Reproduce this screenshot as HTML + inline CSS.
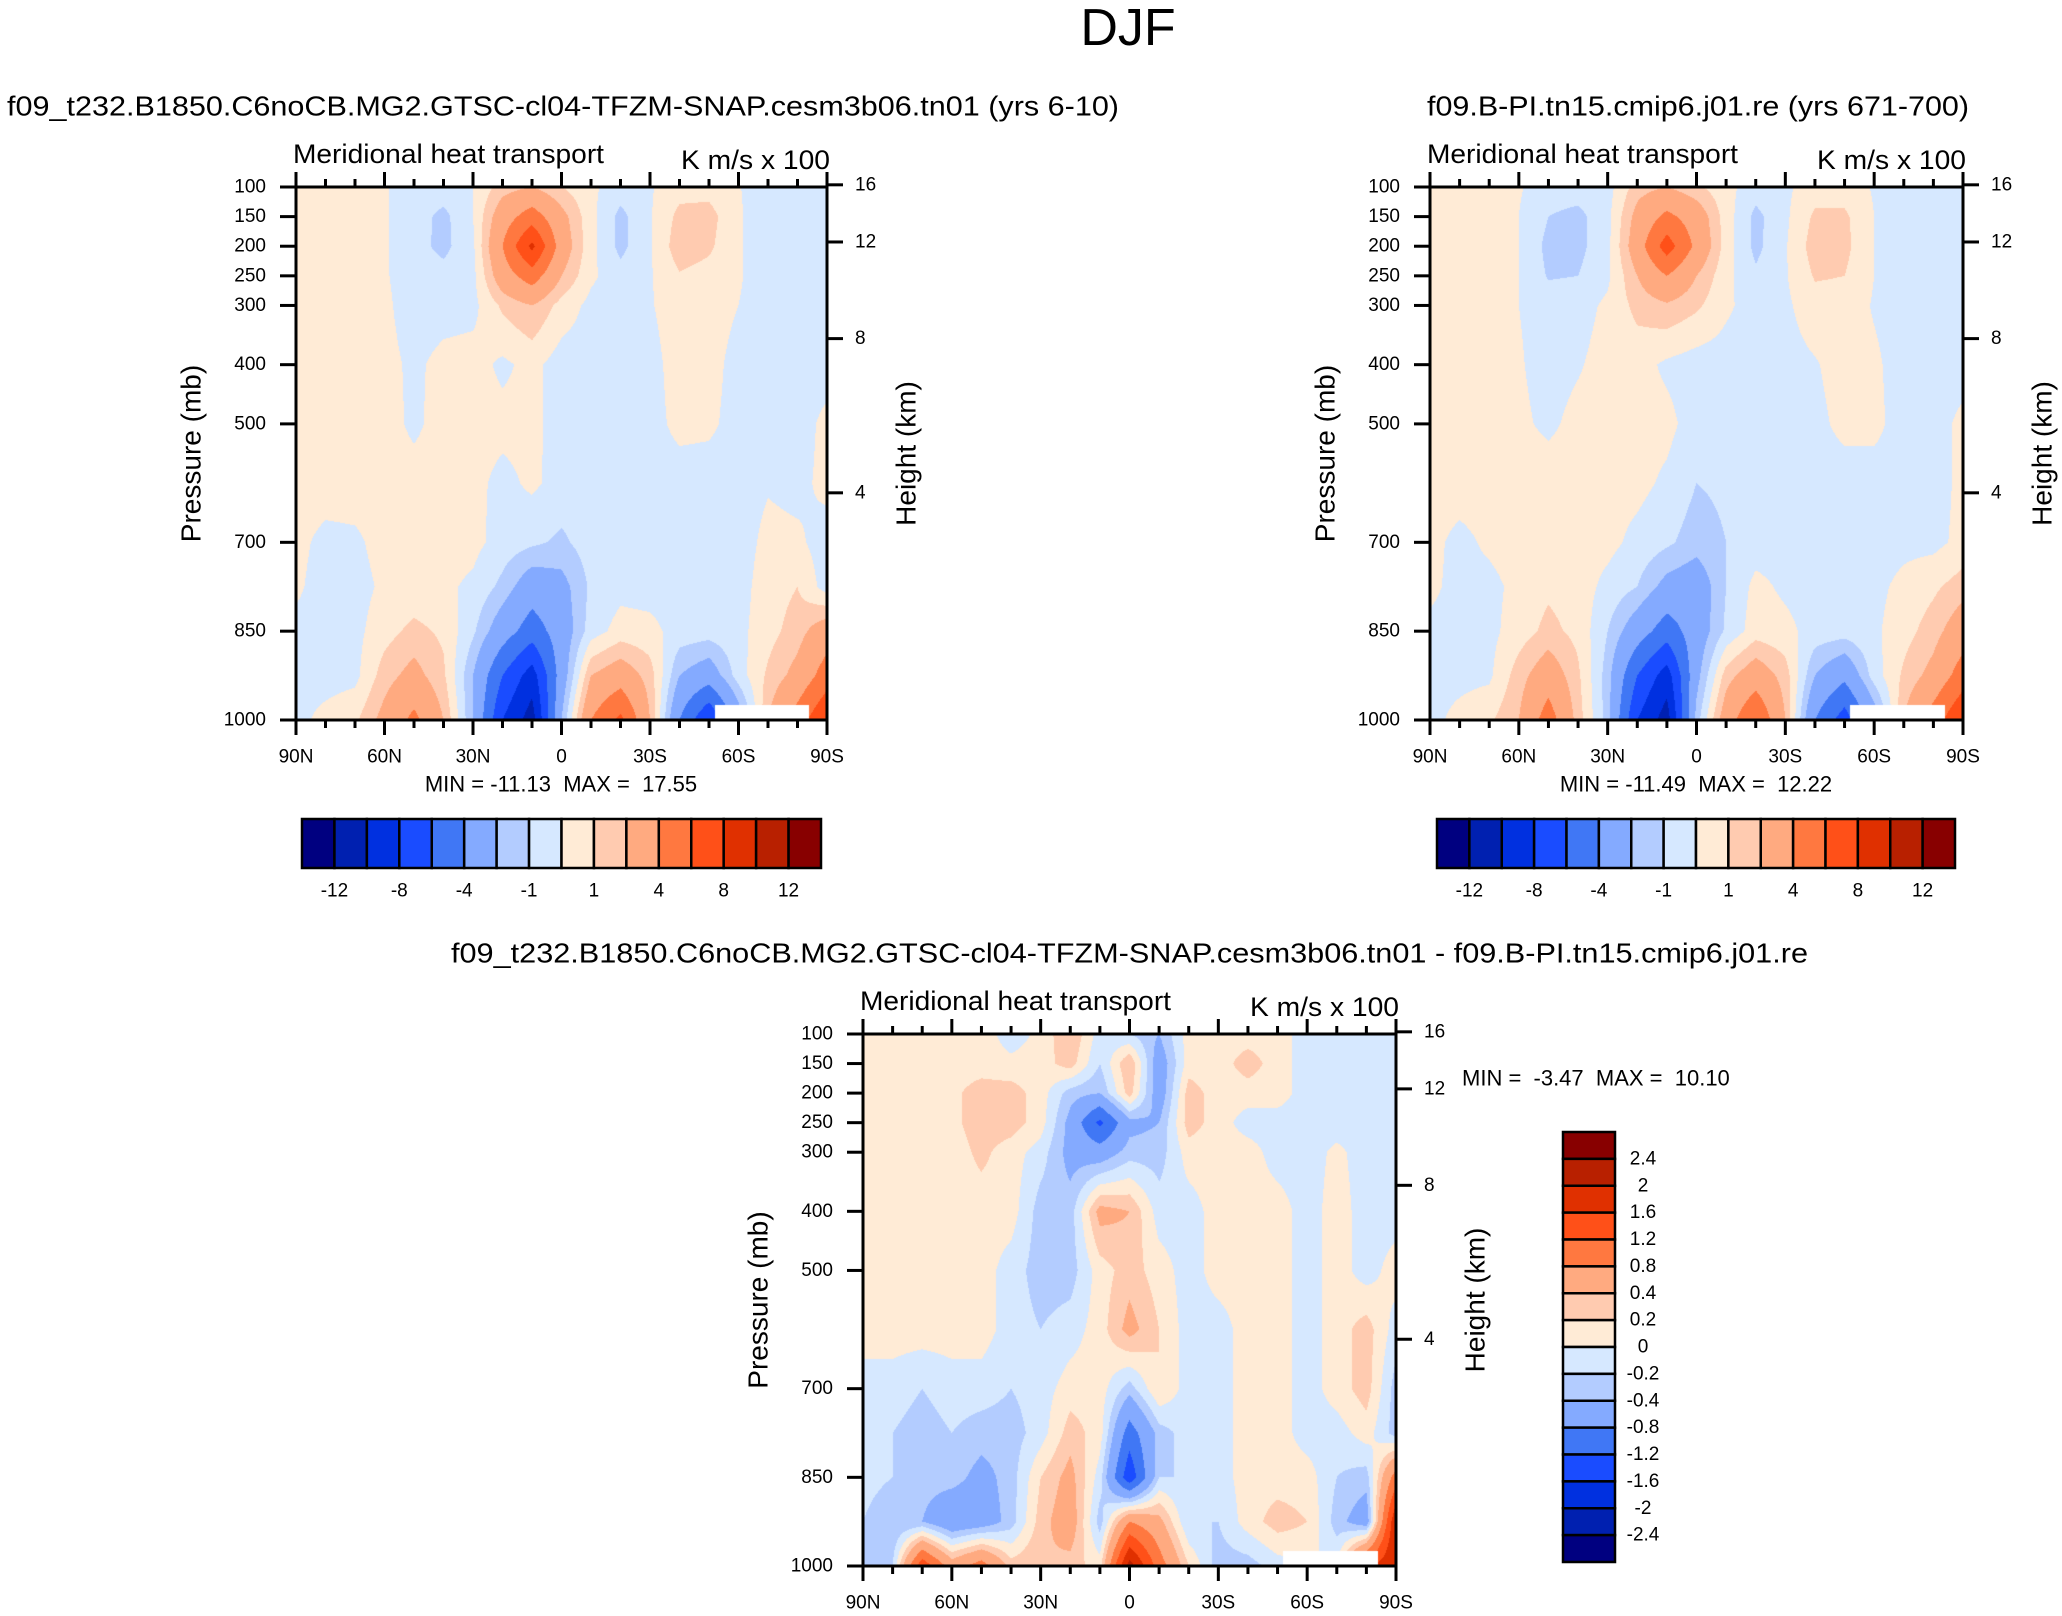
<!DOCTYPE html>
<html><head><meta charset="utf-8">
<style>
html,body{margin:0;padding:0;background:#fff;}
#root{position:relative;width:2062px;height:1616px;overflow:hidden;background:#fff;}
canvas{position:absolute;}
svg{position:absolute;left:0;top:0;}
text{white-space:pre;}
</style></head>
<body>
<div id="root">
<canvas id="c1"></canvas>
<canvas id="c2"></canvas>
<canvas id="c3"></canvas>
<svg id="ov" width="2062" height="1616"></svg>
</div>
<script>
const lats=[90,80,70,60,50,40,30,20,10,0,-10,-20,-30,-40,-50,-60,-70,-80,-90];
const plevs=[100,150,200,250,300,400,500,600,700,775,850,925,1000];
const edges1=[-12,-10,-8,-6,-4,-2,-1,0,1,2,4,6,8,10,12];
const edges3=[-2.4,-2,-1.6,-1.2,-0.8,-0.4,-0.2,0,0.2,0.4,0.8,1.2,1.6,2,2.4];
const colors=["#000080","#0020b0","#0030e0","#1a4cff","#4077f5","#84aaff","#b3ccff","#d6e8ff","#ffebd6","#ffcbb0","#ffaa80","#ff7840","#ff5018","#e03000","#b82000","#880000"];
const pTicks=[100,150,200,250,300,400,500,700,850,1000];
const zTicks=[16,12,8,4];
const latMajor=[90,60,30,0,-30,-60,-90];
const latMajorLabels=["90N","60N","30N","0","30S","60S","90S"];
const cb1Labels=["-12","-8","-4","-1","1","4","8","12"];
const cb3Labels=["2.4","2","1.6","1.2","0.8","0.4","0.2","0","-0.2","-0.4","-0.8","-1.2","-1.6","-2","-2.4"];

const field1=[
[0.5,0.5,0.5,0.1,-0.5,-0.4,0,1.5,2,1,0.2,-0.5,-0.1,0.6,0.6,0.05,-0.5,-0.5,-0.5],
[0.5,0.5,0.5,0.1,-0.5,-1.3,0,3,5,2.5,0.3,-1.3,-0.1,1.3,1.4,0.1,-0.5,-0.5,-0.5],
[0.5,0.5,0.5,0.1,-0.6,-1.3,-0.2,4,8.5,3,0.3,-1.3,-0.1,1.6,1.2,0.1,-0.5,-0.5,-0.5],
[0.5,0.5,0.5,0.1,-0.5,-0.6,-0.3,3,5,2,0.2,-0.6,-0.1,0.9,0.6,0.1,-0.5,-0.5,-0.5],
[0.5,0.5,0.5,0.2,-0.5,-0.4,-0.3,1.2,2,0.6,-0.3,-0.5,-0.1,0.6,0.5,0.0,-0.5,-0.5,-0.5],
[0.5,0.5,0.5,0.3,-0.2,0.3,0.4,-0.2,0.3,-0.5,-0.5,-0.5,-0.4,0.5,0.4,-0.4,-0.5,-0.5,-0.5],
[0.5,0.5,0.5,0.4,-0.2,0.4,0.4,0.3,0.3,-0.5,-0.5,-0.5,-0.4,0.3,0.2,-0.4,-0.5,-0.5,0.3],
[0.5,0.5,0.5,0.4,0.4,0.4,0.3,-0.3,0.2,-0.4,-0.5,-0.5,-0.5,-0.5,-0.5,-0.5,-0.1,-0.3,0.3],
[0.3,-0.3,-0.2,0.4,0.5,0.4,0.3,-0.4,-0.8,-1.2,-0.5,-0.5,-0.4,-0.5,-0.5,-0.5,0.3,0.2,-0.5],
[0.2,-0.5,-0.4,0.2,0.3,0.2,-0.2,-1.3,-3,-2.5,-0.8,-0.3,-0.4,-0.5,-0.5,-0.4,0.5,1,-0.5],
[-0.3,-0.5,-0.3,0.6,1.3,0.8,-0.8,-3,-5,-3,-0.5,0.4,0.3,-0.4,-0.5,-0.3,0.6,1.5,3],
[-0.3,-0.4,-0.3,1.5,2.5,1.2,-2,-6,-9,-3,2,3,1.5,-2,-3,-0.5,1.2,2.5,5],
[-0.3,0.3,0.8,2.5,4.5,2,-2,-8,-11,-2,4,6.5,2,-4,-8,-3,2,5,8]
];
const field2=[
[0.5,0.5,0.5,0.1,-0.5,-0.5,-0.4,1.5,2,1.2,0.3,-0.5,-0.2,0.5,0.5,-0.1,-0.5,-0.5,-0.5],
[0.5,0.5,0.5,0,-1,-1.3,-0.3,2.5,4.5,3,0.5,-1.3,-0.2,1.2,1.2,0,-0.5,-0.5,-0.5],
[0.5,0.5,0.5,0,-1.3,-1.3,-0.3,3,7,3.5,0.5,-1.3,-0.1,1.5,1.3,0,-0.5,-0.5,-0.5],
[0.5,0.5,0.5,0,-1.1,-1,-0.2,2,4,2,0.3,-0.8,-0.1,1.1,1,0,-0.5,-0.5,-0.5],
[0.5,0.5,0.5,0,-0.4,-0.4,0.2,1.3,1.8,1.2,0.2,-0.5,-0.2,0.6,0.6,-0.1,-0.5,-0.5,-0.5],
[0.5,0.5,0.5,0.1,-0.4,-0.1,0.4,0.4,-0.2,-0.5,-0.5,-0.5,-0.4,-0.1,0.5,0.2,-0.5,-0.5,-0.5],
[0.5,0.5,0.5,0.2,-0.2,0.3,0.4,0.4,0.3,-0.5,-0.5,-0.5,-0.5,-0.3,0.3,0.3,-0.5,-0.5,0.3],
[0.5,0.5,0.5,0.5,0.5,0.5,0.4,0.3,-0.2,-1,-0.8,-0.3,-0.5,-0.5,-0.5,-0.5,-0.4,-0.5,0.3],
[0.3,-0.3,0.2,0.5,0.5,0.4,0.3,-0.3,-0.8,-1.5,-1,-0.5,-0.5,-0.5,-0.5,-0.5,-0.3,-0.3,0.3],
[0.2,-0.3,-0.3,0.3,0.8,0.5,-0.3,-1,-2.5,-3,-1,0.3,-0.2,-0.5,-0.5,-0.3,0.3,0.8,1.5],
[-0.2,-0.4,-0.3,0.5,1.3,0.7,-1,-3,-5,-3,-0.8,0.5,0.3,-0.4,-0.5,-0.2,0.6,1.5,3],
[-0.3,-0.3,-0.2,1.5,3,1.2,-1.5,-6,-9,-2.5,1.5,3,1.5,-2,-3.5,-0.5,1.2,2.5,5],
[-0.3,0.3,0.8,2,5,1.5,-1.5,-8,-11,-1.5,3,6,2,-4,-7,-3,2,5,8]
];
const field3=[
[0.1,0.1,0.1,0.1,0.1,-0.1,0.05,0.4,-0.1,-0.2,-0.4,0.1,0.1,0.1,0.1,-0.1,-0.1,-0.1,-0.1],
[0.1,0.1,0.1,0.1,0.1,0.05,0.1,0.3,-0.2,0.4,-0.6,0.1,0.1,0.3,0.1,-0.1,-0.1,-0.1,-0.1],
[0.1,0.1,0.1,0.15,0.3,0.3,0.1,-0.3,-0.4,0.3,-0.6,0.3,0.1,0.1,0.1,-0.1,-0.1,-0.1,-0.1],
[0.1,0.1,0.1,0.15,0.3,0.3,0.1,-0.5,-1.3,-0.5,-0.4,0.3,0.1,-0.1,-0.1,-0.1,-0.1,-0.1,-0.1],
[0.1,0.1,0.1,0.1,0.25,0.1,-0.1,-0.5,-0.6,-0.3,-0.3,0.1,0.1,0.1,-0.1,-0.1,0.05,-0.1,-0.1],
[0.1,0.1,0.1,0.1,0.1,0.1,-0.3,-0.3,0.5,0.4,-0.1,-0.1,0.1,0.1,0.1,-0.1,0.1,-0.1,-0.1],
[0.1,0.1,0.1,0.1,0.1,-0.1,-0.3,-0.3,0.1,0.3,0.1,-0.1,0.1,0.1,0.1,-0.1,0.1,-0.1,0.1],
[0.1,0.1,0.1,0.1,0.1,-0.1,-0.2,-0.1,0.1,0.5,0.2,-0.1,-0.1,0.1,0.1,-0.1,0.1,0.3,-0.1],
[-0.1,-0.1,-0.2,-0.1,-0.1,-0.2,-0.1,0.1,0.1,-0.3,0.2,-0.1,-0.1,0.1,0.1,-0.1,0.1,0.3,-0.3],
[-0.1,-0.2,-0.3,-0.2,-0.3,-0.3,-0.1,0.3,0.1,-1,-0.3,-0.1,-0.1,0.1,0.1,-0.1,-0.1,0.1,-0.3],
[-0.1,-0.2,-0.3,-0.3,-0.5,-0.3,0.2,0.5,-0.1,-1.5,-0.2,-0.2,-0.1,0.1,0.1,0.1,-0.2,-0.3,1],
[-0.2,-0.4,-0.4,-0.7,-0.6,-0.3,0.3,0.6,-0.3,0.8,0.5,-0.2,-0.2,0.1,0.3,0.2,-0.3,-0.6,2],
[-0.3,-0.2,1.5,0.6,1,0.3,0.4,0.3,0.1,2.2,1,0.2,-0.3,-0.3,-0.1,0,0,1.5,2]
];

const NS="http://www.w3.org/2000/svg";
const ov=document.getElementById('ov');
const FONT='"Liberation Sans", Arial, sans-serif';
function mk(tag,attrs,parent){const e=document.createElementNS(NS,tag);for(const k in attrs)e.setAttribute(k,attrs[k]);(parent||ov).appendChild(e);return e;}
function txt(x,y,s,size,anchor,parent){const t=mk('text',{x:x,y:y,'font-size':size,'font-family':FONT,'text-anchor':anchor||'start','dominant-baseline':'central',fill:'#000'},parent);t.textContent=s;return t;}

function zToP(z){return 1013.25*Math.pow(1-2.25577e-5*z*1000,5.2559);}

function colorIndex(v,edges){let k=0;for(let i=0;i<edges.length;i++){if(v>=edges[i])k=i+1;}return k;}
function hexRGB(h){return [parseInt(h.substr(1,2),16),parseInt(h.substr(3,2),16),parseInt(h.substr(5,2),16)];}
const rgb=colors.map(hexRGB);

function sample(field,lat,p){
  let c=(90-lat)/10; if(c<0)c=0; if(c>18)c=18;
  let c0=Math.min(17,Math.floor(c)), fc=c-c0;
  let r0=0; while(r0<plevs.length-2 && p>plevs[r0+1]) r0++;
  let fr=(p-plevs[r0])/(plevs[r0+1]-plevs[r0]); if(fr<0)fr=0; if(fr>1)fr=1;
  const a=field[r0][c0],b=field[r0][c0+1],d=field[r0+1][c0],e=field[r0+1][c0+1];
  return (a*(1-fc)+b*fc)*(1-fr)+(d*(1-fc)+e*fc)*fr;
}

function drawPanel(cfg){
  const {L,R,T,B,field,edges,canvasId,name}=cfg;
  const W=R-L,H=B-T;
  const xS=lat=>L+(90-lat)/180*W;
  const yS=p=>T+(p-100)/900*H;
  const cv=document.getElementById(canvasId);
  cv.width=W;cv.height=H;cv.style.left=L+'px';cv.style.top=T+'px';
  const ctx=cv.getContext('2d');
  const img=ctx.createImageData(W,H);
  for(let j=0;j<H;j++){
    const p=100+(j+0.5)/H*900;
    for(let i=0;i<W;i++){
      const lat=90-(i+0.5)/W*180;
      const o=(j*W+i)*4;
      if(lat<-52 && lat>-84 && p>975){img.data[o]=255;img.data[o+1]=255;img.data[o+2]=255;img.data[o+3]=255;continue;}
      const v=sample(field,lat,p);
      const c=rgb[colorIndex(v,edges)];
      img.data[o]=c[0];img.data[o+1]=c[1];img.data[o+2]=c[2];img.data[o+3]=255;
    }
  }
  ctx.putImageData(img,0,0);
  const g=mk('g',{});
  
  
  const fr=mk('rect',{x:L,y:T,width:W,height:H,fill:'none',stroke:'#000','stroke-width':3},g);
  
  
  pTicks.forEach(p=>{
    const y=yS(p);
    const tk=mk('line',{x1:L-16,x2:L,y1:y,y2:y,stroke:'#000','stroke-width':3},g);
    
    
    const lb=txt(L-30,y,String(p),19,'end',g);
    
    
  });
  zTicks.forEach(z=>{
    const y=yS(zToP(z));
    const tk=mk('line',{x1:R,x2:R+16,y1:y,y2:y,stroke:'#000','stroke-width':3},g);
    
    
    const lb=txt(R+28,y,String(z),19,'start',g);
    
    
  });
  lats.forEach(lat=>{
    const x=xS(lat);const major=(lat%30===0);const len=major?15:8;
    const t1=mk('line',{x1:x,x2:x,y1:T-len,y2:T,stroke:'#000','stroke-width':3},g);
    
    
    const t2=mk('line',{x1:x,x2:x,y1:B,y2:B+len,stroke:'#000','stroke-width':3},g);
    
    
  });
  latMajor.forEach((lat,i)=>{
    const lb=txt(xS(lat),B+37,latMajorLabels[i],19,'middle',g);
    
    
  });
  const t1=txt(L-3,T-33,'Meridional heat transport',27,'start',g);
  t1.setAttribute('textLength','311');
  t1.setAttribute('lengthAdjust','spacingAndGlyphs');
  
  
  const t2=txt(R+3,T-27,'K m/s x 100',27,'end',g);
  t2.setAttribute('textLength','149');
  t2.setAttribute('lengthAdjust','spacingAndGlyphs');
  
  
  const yl=txt(0,0,'Pressure (mb)',28,'middle',g);
  yl.setAttribute('transform','translate('+(L-105)+','+((T+B)/2)+') rotate(-90)');
  
  
  const hl=txt(0,0,'Height (km)',28,'middle',g);
  hl.setAttribute('transform','translate('+(R+79)+','+((T+B)/2)+') rotate(-90)');
  
  
}

function hColorbar(x0,x1,y0,y1,name){
  const g=mk('g',{});
  
  
  const w=(x1-x0)/colors.length;
  colors.forEach((c,i)=>{
    const r=mk('rect',{x:x0+i*w,y:y0,width:w,height:y1-y0,fill:c,stroke:'#000','stroke-width':2.5},g);
    
    
  });
  cb1Labels.forEach((s,k)=>{
    const lb=txt(x0+(2*k+1)*w,y1+23,s,19,'middle',g);
    
    
  });
}
function vColorbar(x0,x1,y0,y1,name){
  const g=mk('g',{});
  
  
  const h=(y1-y0)/colors.length;
  for(let i=0;i<colors.length;i++){
    const r=mk('rect',{x:x0,y:y0+i*h,width:x1-x0,height:h,fill:colors[colors.length-1-i],stroke:'#000','stroke-width':2.5},g);
    
    
  }
  cb3Labels.forEach((s,k)=>{
    const lb=txt(1643,y0+(k+1)*h,s,19,'middle',g);
    
    
  });
}

drawPanel({L:296,R:827,T:187,B:720,field:field1,edges:edges1,canvasId:'c1',name:'panel-1'});
drawPanel({L:1430,R:1963,T:187,B:720,field:field2,edges:edges1,canvasId:'c2',name:'panel-2'});
drawPanel({L:863,R:1396,T:1034,B:1566,field:field3,edges:edges3,canvasId:'c3',name:'panel-diff'});

hColorbar(302,821,819,868,'colorbar-panel-1');
hColorbar(1437,1955,819,868,'colorbar-panel-2');
vColorbar(1563,1615,1132,1562,'colorbar-diff');

const main=txt(1128,28,'DJF',52,'middle');


const pt1=txt(7,106,'f09_t232.B1850.C6noCB.MG2.GTSC-cl04-TFZM-SNAP.cesm3b06.tn01 (yrs 6-10)',28,'start');
pt1.setAttribute('textLength','1112');
pt1.setAttribute('lengthAdjust','spacingAndGlyphs');


const pt2=txt(1427,106,'f09.B-PI.tn15.cmip6.j01.re (yrs 671-700)',28,'start');
pt2.setAttribute('textLength','542');
pt2.setAttribute('lengthAdjust','spacingAndGlyphs');


const pt3=txt(451,953,'f09_t232.B1850.C6noCB.MG2.GTSC-cl04-TFZM-SNAP.cesm3b06.tn01 - f09.B-PI.tn15.cmip6.j01.re',28,'start');
pt3.setAttribute('textLength','1357');
pt3.setAttribute('lengthAdjust','spacingAndGlyphs');


const m1=txt(561,784,'MIN = -11.13  MAX =  17.55',22,'middle');


const m2=txt(1696,784,'MIN = -11.49  MAX =  12.22',22,'middle');


const m3=txt(1462,1078,'MIN =  -3.47  MAX =  10.10',22,'start');


</script>
</body></html>
